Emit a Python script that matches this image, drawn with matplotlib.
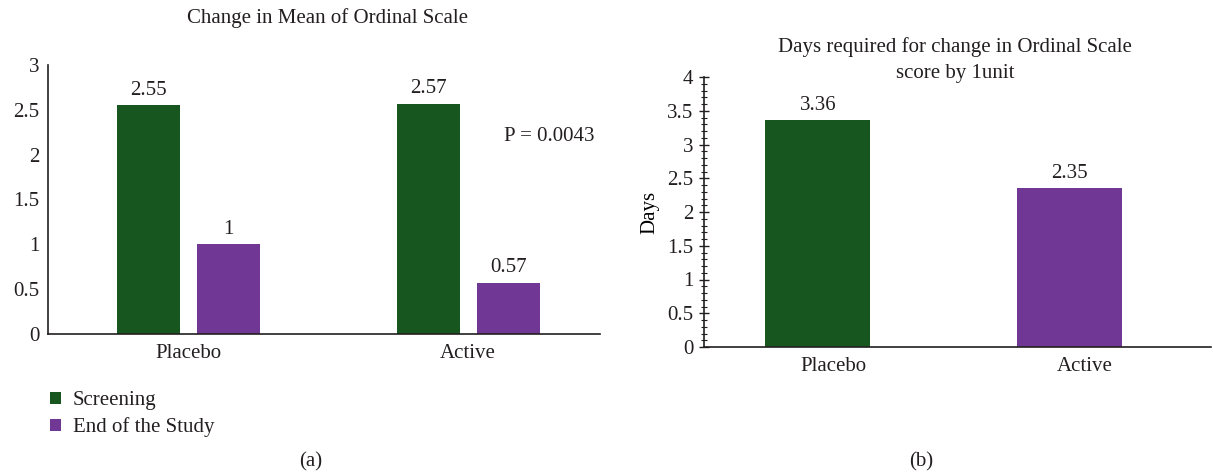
import matplotlib.pyplot as plt
import numpy as np
from matplotlib.ticker import MultipleLocator

plt.rcParams["font.family"] = ["Liberation Serif", "DejaVu Serif"]
plt.rcParams["font.size"] = 15
plt.rcParams["text.color"] = "#231f20"
plt.rcParams["xtick.color"] = "#231f20"
plt.rcParams["ytick.color"] = "#231f20"

groups = ["Placebo", "Active"]
screening = [2.55, 2.57]
end_study = [1, 0.57]
screening_labels = ["2.55", "2.57"]
end_labels = ["1", "0.57"]
days = [3.36, 2.35]
days_labels = ["3.36", "2.35"]
p_text = "P = 0.0043"

green = "#17561f"
purple = "#703894"
W, H = 1213, 476

fig = plt.figure(figsize=(12.13, 4.76), dpi=100)

# (a) change in mean of ordinal scale
ax1 = fig.add_axes([48 / W, (H - 334) / H, (600 - 48) / W, (334 - 65) / H])
x = np.arange(len(groups))
b1 = ax1.bar(x - 0.141, screening, width=0.225, color=green, label="Screening")
b2 = ax1.bar(x + 0.143, end_study, width=0.225, color=purple, label="End of the Study")
ax1.bar_label(b1, labels=screening_labels, padding=4)
ax1.bar_label(b2, labels=end_labels, padding=4)
ax1.set_xlim(-0.5, 1.471)
ax1.set_ylim(0, 3)
ax1.set_yticks([0, 0.5, 1, 1.5, 2, 2.5, 3])
ax1.set_yticklabels(["0", "0.5", "1", "1.5", "2", "2.5", "3"])
ax1.set_xticks(x)
ax1.set_xticklabels(groups)
ax1.tick_params(axis="y", length=0, pad=6)
ax1.tick_params(axis="x", length=0, pad=7)
ax1.spines[["top", "right"]].set_visible(False)
for s in ["left", "bottom"]:
    ax1.spines[s].set_linewidth(1.2)
    ax1.spines[s].set_color("#231f20")
ax1.text(1.29, 2.2, p_text, ha="center", va="center")
fig.text(327 / W, 1 - 18 / H, "Change in Mean of Ordinal Scale", ha="center", va="center")
ax1.legend(loc="upper left", bbox_to_anchor=(-0.012, -0.182), frameon=False,
           handlelength=0.55, handleheight=0.55, handletextpad=0.55,
           labelspacing=0.35, borderaxespad=0)
fig.text(311 / W, 1 - 462 / H, "(a)", ha="center", va="center")

# (b) days required
ax2 = fig.add_axes([704 / W, (H - 347) / H, (1211 - 704) / W, (347 - 77) / H])
bars = ax2.bar(x - 0.06, days, width=0.417, color=[green, purple])
ax2.bar_label(bars, labels=days_labels, padding=4)
ax2.set_xlim(-0.512, 1.5)
ax2.set_ylim(0, 4)
ax2.yaxis.set_major_locator(MultipleLocator(0.5))
ax2.yaxis.set_minor_locator(MultipleLocator(0.1))
ax2.set_yticks([0, 0.5, 1, 1.5, 2, 2.5, 3, 3.5, 4])
ax2.set_yticklabels(["0", "0.5", "1", "1.5", "2", "2.5", "3", "3.5", "4"])
ax2.set_xticks(x)
ax2.set_xticklabels(groups)
ax2.tick_params(axis="y", which="major", direction="inout", length=7, width=1, pad=4)
ax2.tick_params(axis="y", which="minor", direction="inout", length=5, width=0.8)
ax2.tick_params(axis="x", length=0, pad=7)
ax2.spines[["top", "right"]].set_visible(False)
for s in ["left", "bottom"]:
    ax2.spines[s].set_linewidth(1.2)
    ax2.spines[s].set_color("#231f20")
ax2.set_ylabel("Days", labelpad=6)
fig.text(955 / W, 1 - 60 / H, "Days required for change in Ordinal Scale\nscore by 1unit",
         ha="center", va="center", linespacing=1.55)
fig.text(921 / W, 1 - 462 / H, "(b)", ha="center", va="center")

fig.savefig("out.png", dpi=100)
